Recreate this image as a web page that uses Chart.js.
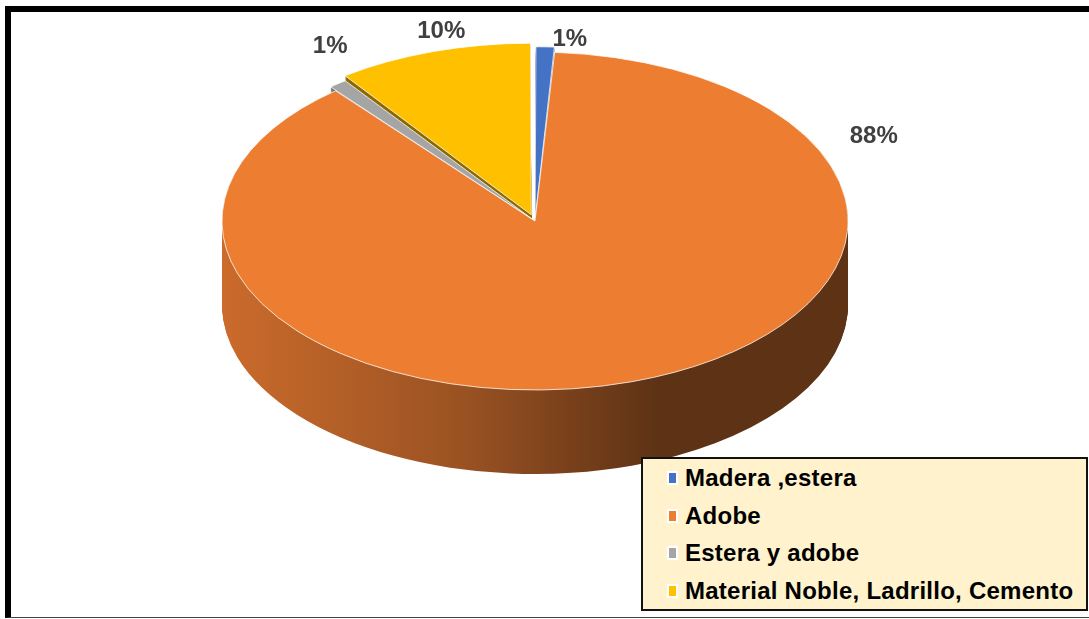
<!DOCTYPE html>
<html>
<head>
<meta charset="utf-8">
<title>Material de vivienda</title>
<script src="https://cdn.jsdelivr.net/npm/chart.js@4.4.1/dist/chart.umd.min.js"></script>
<style>
  html, body { margin: 0; padding: 0; background: #fff; overflow: hidden; }
  #wrap { position: relative; width: 1089px; height: 619px; }
  #frame {
    position: absolute; left: 5px; top: 6px; width: 1100px; height: 612px;
    box-sizing: border-box;
    border-top: 6px solid #000; border-left: 6px solid #000; border-bottom: 1px solid #444;
  }
  #pie { position: absolute; left: 0; top: 0; }
  #legend {
    position: absolute; left: 641px; top: 457px; width: 447px; height: 154px;
    box-sizing: border-box; border: 2px solid #111; background: #FFF2CC;
    font: bold 24px "Liberation Sans", Arial, sans-serif; letter-spacing: 0.25px; color: #000;
  }
  .row { position: absolute; left: 0; height: 37.5px; line-height: 37.5px; white-space: nowrap; }
  .row span.box {
    position: absolute; left: 24px; top: 12px; width: 7px; height: 10px;
    border: 2px solid #fff;
  }
  .row span.txt { position: absolute; left: 42px; top: 0; }
</style>
</head>
<body>
<div id="wrap">
  <div id="frame"></div>
  <canvas id="pie" width="1089" height="619"></canvas>
  <div id="legend"></div>
</div>
<script>
// Housing material shares
const categories = ['Madera ,estera', 'Adobe', 'Estera y adobe', 'Material Noble, Ladrillo, Cemento'];
const percentages = [1, 88, 1, 10];
const colors = ['#4472C4', '#ED7D31', '#A5A5A5', '#FFC000'];

// 3D look: ellipse centre, radii and wall height
const CX = 535, CY = 221, RX = 313, RY = 169, DEPTH = 84;
const SY = RY / RX;
// where each percentage label sits relative to its slice rim
const labelShift = [[25, -13], [242, -245], [-13, -41], [3, -29]];

const canvas = document.getElementById('pie');
const ctx = canvas.getContext('2d');

const orangeSide = ctx.createLinearGradient(222, 0, 660, 0);
orangeSide.addColorStop(0, '#CB6B2C');
orangeSide.addColorStop(0.55, '#9A5222');
orangeSide.addColorStop(1, '#5D3215');
const sideFill = ['#2F5597', orangeSide, '#6E6E6E', '#8C6A00'];

function toTop(chart, c, dy) {
  const a = chart.chartArea;
  const ox = (a.left + a.right) / 2, oy = (a.top + a.bottom) / 2;
  c.translate(CX, CY + dy);
  c.scale(1, SY);
  c.translate(-ox, -oy);
}

const tilt = {
  id: 'tilt',
  beforeDatasetsDraw(chart) {
    const c = chart.ctx;
    const arcs = chart.getDatasetMeta(0).data;
    // stack the slices downwards to build the walls
    for (let d = DEPTH; d >= 1; d--) {
      arcs.forEach((arc, i) => {
        const saved = arc.options;
        arc.options = Object.assign({}, saved, { backgroundColor: sideFill[i], borderWidth: 0 });
        c.save();
        toTop(chart, c, d);
        arc.draw(c);
        c.restore();
        arc.options = saved;
      });
    }
    c.save();
    toTop(chart, c, 0);
  },
  afterDatasetsDraw(chart) {
    const c = chart.ctx;
    c.restore();
    const arcs = chart.getDatasetMeta(0).data;
    c.save();
    c.font = 'bold 24px "Liberation Sans", Arial, sans-serif';
    c.fillStyle = '#404040';
    c.textAlign = 'center';
    c.textBaseline = 'middle';
    arcs.forEach((arc, i) => {
      const mid = (arc.startAngle + arc.endAngle) / 2;
      const x = CX + Math.cos(mid) * RX + labelShift[i][0];
      const y = CY + Math.sin(mid) * RY + labelShift[i][1];
      c.fillText(percentages[i] + '%', x, y);
    });
    c.restore();
  }
};

new Chart(ctx, {
  type: 'pie',
  data: {
    labels: categories,
    datasets: [{
      data: percentages,
      backgroundColor: colors,
      borderColor: '#ffffff',
      borderWidth: 1,
      offset: [20, 0, 18, 48],
      radius: RX,
      clip: false
    }]
  },
  options: {
    responsive: false,
    animation: false,
    devicePixelRatio: 1,
    layout: { padding: { left: 0, right: 19, top: 0, bottom: 0 } },
    plugins: {
      legend: { display: false },
      tooltip: { enabled: false }
    },
    events: []
  },
  plugins: [tilt]
});

// legend box
const legend = document.getElementById('legend');
categories.forEach((name, i) => {
  const row = document.createElement('div');
  row.className = 'row';
  row.style.top = (i * 37.5) + 'px';
  const box = document.createElement('span');
  box.className = 'box';
  box.style.background = colors[i];
  const txt = document.createElement('span');
  txt.className = 'txt';
  txt.textContent = name;
  row.appendChild(box);
  row.appendChild(txt);
  legend.appendChild(row);
});
</script>
</body>
</html>
